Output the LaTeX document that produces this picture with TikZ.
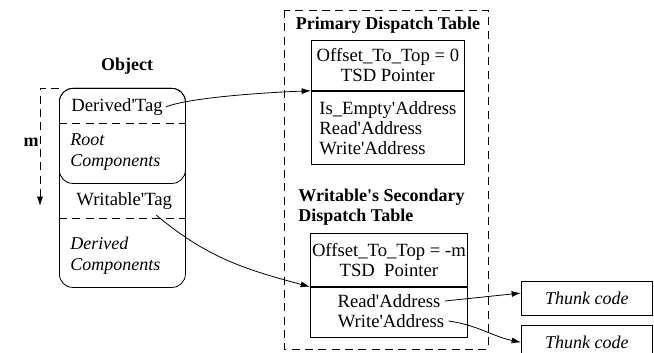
\documentclass[tikz,border=0pt]{standalone}
\usepackage{fontspec}
\setmainfont{Liberation Serif}[Ligatures=TeXOff]
\usepackage{tikz}
\usetikzlibrary{arrows.meta,positioning}

\begin{document}
\begin{tikzpicture}[x=0.75pt,y=-0.75pt,line width=0.6pt,
    txt/.style={font=\fontsize{14}{15}\selectfont, inner sep=0pt},
    boldtxt/.style={font=\bfseries\fontsize{13.5}{15}\selectfont, inner sep=0pt},
    ittxt/.style={font=\itshape\fontsize{13.5}{15.5}\selectfont, inner sep=0pt},
    cell/.style={draw, txt, anchor=north west},
    dashline/.style={dash pattern=on 6pt off 4pt},
    ptr/.style={-{Latex[length=7pt,width=4.5pt]}}]
    \useasboundingbox (0,0) rectangle (654,353);

    % Object
    \node[boldtxt] (objtitle) at (127,66) {Object};
    \node[draw, rounded corners=10pt, anchor=north west, minimum width=94.5pt, minimum height=149.25pt] (objbox) at (59,88) {};
    \node[draw, rounded corners=10pt, anchor=north west, minimum width=94.5pt, minimum height=71.25pt] (rootbox) at (59,88) {};
    \draw[dashline] (59,123) -- (185,123);
    \draw[dashline] (59,218) -- (185,218);
    \node[txt, anchor=west] (dtag) at (71,107) {Derived'Tag};
    \node[ittxt, anchor=west, align=left] (rootc) at (70,152) {Root\\Components};
    \node[txt, anchor=west] (wtag) at (76,201) {Writable'Tag};
    \node[ittxt, anchor=west, align=left] (derc) at (70,256) {Derived\\Components};

    % offset m
    \coordinate (mtop) at (40,88);
    \coordinate (mbot) at (40,206);
    \node[boldtxt] (mlabel) at (31,142) {m};
    \draw[dashline, ptr] (objbox.north west) -- (mtop) -- (mbot);

    % Primary Dispatch Table
    \draw[dashline] (284,10) rectangle (488,349);
    \node[boldtxt] (ptitle) at (388,25) {Primary Dispatch Table};
    \node[cell, align=center, minimum width=114.75pt, minimum height=37.5pt] (ptop) at (311,40)
        {Offset\_To\_Top = 0\\TSD Pointer};
    \node[cell, align=left, minimum width=114.75pt, minimum height=54.75pt] (pbot) at (ptop.south west)
        {Is\_Empty'Address\\Read'Address\\Write'Address};

    % Writable's Secondary Dispatch Table
    \node[boldtxt, anchor=west, align=left] (stitle) at (298,207) {Writable's Secondary\\Dispatch Table};
    \node[cell, align=center, minimum width=117.75pt, minimum height=39.75pt] (stop) at (310,233)
        {Offset\_To\_Top = -m\\TSD\ \ Pointer};
    \node[cell, minimum width=117.75pt, minimum height=37.5pt] (sbot) at (stop.south west) {};
    \node[txt] (sread) at (389,301) {Read'Address};
    \node[txt] (swrite) at (391,321) {Write'Address};

    % Thunks
    \node[cell, ittxt, minimum width=98.25pt, minimum height=25.5pt] (thunka) at (521,281) {Thunk code};
    \node[cell, ittxt, minimum width=98.25pt, minimum height=25.5pt] (thunkb) at (521,325) {Thunk code};

    % pointers
    \draw[ptr] ([xshift=2pt]dtag.east) to[out=22, in=182, looseness=0.5] (ptop.south west);
    \draw[ptr] ([xshift=-12pt,yshift=-4pt]wtag.south east) to[out=-40, in=165] (stop.south west);
    \draw[ptr] ([xshift=3pt]sread.east) -- ([yshift=4pt]thunka.west);
    \draw[ptr] ([xshift=3pt]swrite.east) to[out=-8, in=168] (thunkb.west);
\end{tikzpicture}
\end{document}
